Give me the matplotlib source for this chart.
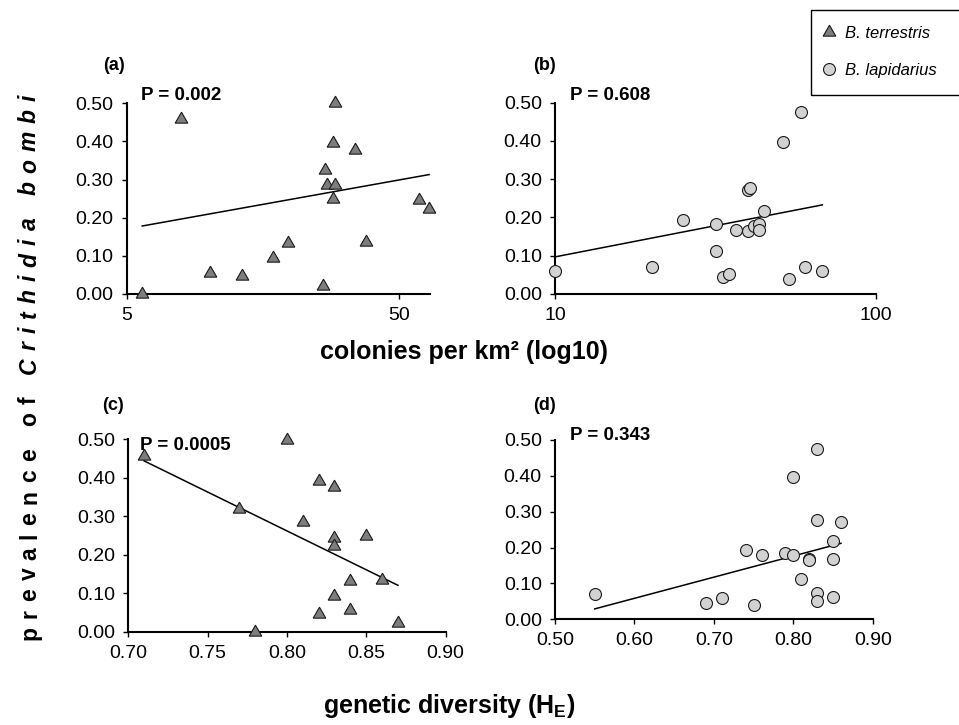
import numpy as np
import matplotlib
matplotlib.use("Agg")
import matplotlib.pyplot as plt
from matplotlib.lines import Line2D
from matplotlib.patches import Rectangle
from matplotlib.ticker import NullLocator

plt.rcParams['font.family'] = ['Liberation Sans', 'DejaVu Sans']
plt.rcParams['mathtext.fontset'] = 'custom'
plt.rcParams['mathtext.bf'] = 'Liberation Sans:bold'
plt.rcParams['mathtext.rm'] = 'Liberation Sans:bold'

# figure size in pixels (dpi 100)
W, H = 959, 725

# (a) B. terrestris: colonies per km2 vs prevalence
dens_terr = [5.7, 7.9, 10.1, 13.3, 17.3, 19.5, 26.2, 26.8, 27.2, 29.2, 28.5,
             29.0, 28.5, 34.5, 37.9, 59.0, 64.5]
prev_terr_a = [0.00, 0.46, 0.056, 0.047, 0.094, 0.133, 0.021, 0.325, 0.286,
               0.286, 0.395, 0.50, 0.25, 0.378, 0.136, 0.247, 0.222]

# (b) B. lapidarius: colonies per km2 vs prevalence
dens_lapi = [10.0, 20.0, 25.0, 31.7, 31.7, 33.3, 35.0, 36.6, 39.9, 40.1, 40.6,
             41.8, 43.2, 43.2, 44.9, 51.5, 58.3, 53.5, 60.1, 68.2]
prev_lapi_b = [0.061, 0.071, 0.193, 0.183, 0.112, 0.045, 0.052, 0.167, 0.165,
               0.272, 0.278, 0.179, 0.182, 0.167, 0.218, 0.396, 0.475, 0.039,
               0.071, 0.061]

# (c) B. terrestris: genetic diversity vs prevalence
he_terr = [0.71, 0.77, 0.78, 0.80, 0.81, 0.82, 0.82, 0.83, 0.83, 0.83, 0.83,
           0.84, 0.84, 0.85, 0.86, 0.87]
prev_terr_c = [0.456, 0.320, 0.00, 0.498, 0.286, 0.392, 0.046, 0.375, 0.243,
               0.223, 0.094, 0.132, 0.056, 0.249, 0.134, 0.022]

# (d) B. lapidarius: genetic diversity vs prevalence
he_lapi = [0.55, 0.69, 0.71, 0.75, 0.74, 0.76, 0.79, 0.80, 0.80, 0.83, 0.83,
           0.82, 0.82, 0.81, 0.83, 0.83, 0.85, 0.85, 0.85, 0.86]
prev_lapi_d = [0.070, 0.046, 0.060, 0.040, 0.193, 0.179, 0.184, 0.179, 0.396,
               0.474, 0.277, 0.167, 0.165, 0.111, 0.072, 0.052, 0.218, 0.167,
               0.061, 0.272]

# regression lines: intercept, slope (log10 density for a/b)
fit_a = [0.0815, 0.128]
fit_b = [-0.066, 0.163]
fit_c = [1.878, -2.02]
fit_d = [-0.2955, 0.59]

p_values = ['P = 0.002', 'P = 0.608', 'P = 0.0005', 'P = 0.343']
panel_tags = ['(a)', '(b)', '(c)', '(d)']

tri_color = '#7d7d7d'
circ_color = '#d2d2d2'
edge_color = '#1a1a1a'
tri_marker = dict(marker=(3, 0, 0), ms=10.5, mfc=tri_color, mec=edge_color, mew=0.8)
circ_marker = dict(marker='o', ms=8.6, mfc=circ_color, mec=edge_color, mew=0.8)


def fx(x):
    return x / W


def fy(y):
    return 1 - y / H


def add_panel(rect_px, x, y, fit, log, marker):
    l, t, r, b = rect_px
    ax = fig.add_axes([fx(l), fy(b), (r - l) / W, (b - t) / H])
    ax.plot(x, y, ls='none', clip_on=False, zorder=3, **marker)
    xs = np.array([min(x), max(x)])
    xv = np.log10(xs) if log else xs
    ax.plot(xs, fit[0] + fit[1] * xv, color='black', lw=1.1, zorder=2)
    ax.set_ylim(0, 0.5)
    ax.set_yticks(np.arange(0, 0.51, 0.1))
    ax.set_yticklabels(['%.2f' % v for v in np.arange(0, 0.51, 0.1)])
    for side in ['top', 'right']:
        ax.spines[side].set_visible(False)
    for side in ['left', 'bottom']:
        ax.spines[side].set_linewidth(1.5)
    ax.tick_params(direction='out', length=3.5, width=1, labelsize=14, pad=6)
    return ax


fig = plt.figure(figsize=(W / 100, H / 100), dpi=100)

ax_a = add_panel((126.7, 103.3, 430, 294), dens_terr, prev_terr_a, fit_a, True, tri_marker)
ax_a.set_xscale('log')
ax_a.set_xlim(5, 65)
ax_a.set_xticks([5, 50])
ax_a.set_xticklabels(['5', '50'])
ax_a.xaxis.set_minor_locator(NullLocator())

ax_b = add_panel((555, 102.7, 875.7, 294), dens_lapi, prev_lapi_b, fit_b, True, circ_marker)
ax_b.set_xscale('log')
ax_b.set_xlim(10, 100)
ax_b.set_xticks([10, 100])
ax_b.set_xticklabels(['10', '100'])
ax_b.xaxis.set_minor_locator(NullLocator())

ax_c = add_panel((128.3, 439.3, 445.5, 631.7), he_terr, prev_terr_c, fit_c, False, tri_marker)
ax_c.set_xlim(0.70, 0.90)
ax_c.set_xticks(np.arange(0.70, 0.91, 0.05))
ax_c.set_xticklabels(['%.2f' % v for v in np.arange(0.70, 0.91, 0.05)])

ax_d = add_panel((555, 440, 872.7, 619.3), he_lapi, prev_lapi_d, fit_d, False, circ_marker)
ax_d.set_xlim(0.50, 0.90)
ax_d.set_xticks(np.arange(0.50, 0.91, 0.10))
ax_d.set_xticklabels(['%.2f' % v for v in np.arange(0.50, 0.91, 0.10)])

# panel tags and P values
tag_pos = [(102.7, 65), (533, 65), (102, 405), (533, 405)]
p_pos = [(141, 95), (570, 95), (140, 445), (570, 435)]
for tag, (px, py) in zip(panel_tags, tag_pos):
    fig.text(fx(px), fy(py), tag, fontsize=13, fontweight='bold', ha='left', va='center')
for pv, (px, py) in zip(p_values, p_pos):
    fig.text(fx(px), fy(py), pv, fontsize=13.5, fontweight='bold', ha='left', va='center')

# axis titles
fig.text(fx(464), fy(352), 'colonies per km² (log10)', fontsize=18,
         fontweight='bold', ha='center', va='center')
fig.text(fx(449), fy(706), r'genetic diversity (H$_\mathbf{E}$)', fontsize=18,
         fontweight='bold', ha='center', va='center')

# letter-spaced vertical y label
renderer = fig.canvas.get_renderer()
ylab_parts = [('prevalence of ', 'normal'), ('Crithidia bombi', 'italic')]
ylab_size = 16.5
ylab_gap = 8
space_px = 0.278 * ylab_size * 100 / 72
x_base = 36
y_cur = H - 640
for s, style in ylab_parts:
    for ch in s:
        if ch == ' ':
            y_cur += space_px + ylab_gap
            continue
        t = fig.text(fx(x_base), y_cur / H, ch, rotation=90, rotation_mode='anchor',
                     ha='left', va='baseline', fontsize=ylab_size,
                     fontweight='bold', fontstyle=style)
        y_cur += t.get_window_extent(renderer).height + ylab_gap

# legend
handles = [Line2D([], [], ls='none', **tri_marker),
           Line2D([], [], ls='none', **circ_marker)]
fig.legend(handles, ['B. terrestris', 'B. lapidarius'], loc='upper left',
           bbox_to_anchor=(fx(820.5), fy(26)), frameon=False,
           prop=dict(style='italic', size=12), handlelength=1.0,
           handletextpad=0.45, labelspacing=1.3, borderpad=0, borderaxespad=0)
fig.add_artist(Rectangle((fx(811), fy(95)), 0.3, 85 / H, transform=fig.transFigure,
                         fill=False, lw=1, ec='black'))

fig.savefig('out.png', dpi=100)
